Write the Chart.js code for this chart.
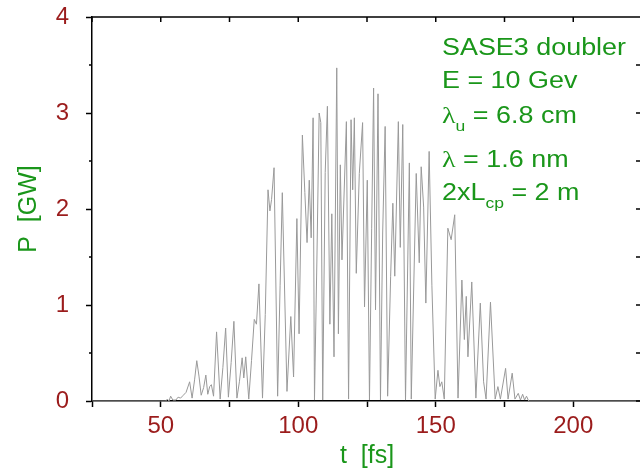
<!DOCTYPE html>
<html>
<head>
<meta charset="utf-8">
<script src="https://cdn.jsdelivr.net/npm/chart.js@4"></script>
<style>
  html, body { margin: 0; padding: 0; background: #fff; overflow: hidden; }
  #wrap { width: 650px; height: 473px; }
</style>
</head>
<body>
<div id="wrap"><canvas id="pulse" width="650" height="473"></canvas></div>
<script>
// time axis (fs) and power (GW)
const timeFs = [
  25, 50, 51.8, 52.4, 53, 53.6, 54.4, 55.5, 56.3, 57.2,
  58.2, 59.2, 60.5, 61.4, 62.3, 63.1, 63.9, 64.7, 65.6, 66.4,
  67.1, 67.8, 68.4, 69.2, 70.3, 71.6, 72.6, 73.6, 74.6, 75.6,
  76.6, 77.7, 78.6, 79.6, 80.2, 80.9, 82, 83, 84, 84.8,
  85.7, 87, 88, 89, 89.7, 90.3, 91.2, 92.5, 93.4, 94.2,
  95.9, 97.3, 98.3, 99.5, 100.3, 101.5, 102.4, 103.2, 104, 104.7,
  105.4, 105.9, 106.8, 107.6, 108.2, 108.9, 109.8, 110.6, 111.5, 112.2,
  113, 114, 114.6, 115.3, 115.9, 117.5, 118.3, 119.2, 119.8, 120.4,
  121.1, 122.2, 123.4, 124.1, 125.1, 125.9, 126.7, 127.4, 128.1, 129,
  129.9, 130.7, 131.6, 132.5, 133.6, 134.4, 135.1, 136.4, 137.1, 138,
  139, 140.4, 141.1, 142.9, 144, 144.7, 145.6, 146.4, 147.6, 148.6,
  149.8, 150.8, 151.5, 152.2, 153.1, 154.4, 155.6, 156.9, 158.1, 159.5,
  160.4, 161.1, 161.7, 163.1, 164.6, 166.2, 167.4, 168.3, 169.9, 171.6,
  172.6, 173.5, 175.4, 176.3, 177.8, 178.8, 180, 180.8, 181.6, 182.3,
  183, 183.8, 225
];
const powerGW = [
  0, 0, 0, 0.02, 0, 0.05, 0.01, 0.01, 0.04, 0.03,
  0.06, 0.09, 0.2, 0.03, 0.22, 0.42, 0.26, 0.06, 0.14, 0.27,
  0.07, 0.15, 0.17, 0.05, 0.72, 0.02, 0.35, 0.76, 0.04, 0.4,
  0.83, 0.03, 0.2, 0.45, 0.24, 0.46, 0.02, 0.42, 0.85, 0.8,
  1.22, 0.03, 0.9, 2.2, 1.98, 2.1, 2.43, 0.05, 1.2, 2.17,
  0.1, 0.88, 0.25, 1.9, 0.7, 2.77, 2.17, 1.65, 2.3, 1.7,
  2.95, 0.01, 1.5, 3.0, 2.9, 0.01, 2.38, 3.07, 0.8, 1.95,
  0.46, 3.47, 0.7, 2.46, 1.47, 2.91, 0.02, 2.93, 2.2, 2.95,
  1.33, 2.37, 2.9, 0.98, 2.3, 0.01, 1.8, 3.26, 0.95, 3.2,
  0.01, 1.75, 2.86, 0.05, 1.3, 2.06, 1.3, 2.91, 1.6, 2.88,
  0.01, 2.48, 0.02, 2.37, 1.44, 2.44, 2.02, 1.02, 2.6, 1.2,
  0.02, 0.32, 0.15, 0.2, 0.02, 1.8, 1.68, 1.94, 0.03, 1.26,
  0.64, 1.09, 0.46, 1.24, 0.03, 1.02, 0.2, 0.02, 1.03, 0.02,
  0.15, 0.02, 0.34, 0.02, 0.29, 0.02, 0.08, 0.01, 0.07, 0.01,
  0.05, 0, 0
];

// tick labels
const xLabels = [50, 100, 150, 200];
const yLabels = [0, 1, 2, 3, 4];
const yMinor = [0.5, 1.5, 2.5, 3.5];

// annotation block, [text, isSubscript, isSymbol]
const noteLines = [
  [["SASE3 doubler", 0, 0]],
  [["E = 10 Gev", 0, 0]],
  [["\u03bb", 0, 1], ["u", 1, 0], [" = 6.8 cm", 0, 0]],
  [["\u03bb", 0, 1], [" = 1.6 nm", 0, 0]],
  [["2xL", 0, 0], ["cp", 1, 0], [" = 2 m", 0, 0]]
];

const RED = "#9b1c1c";
const GREEN = "#1a961a";
const SANS = "'Liberation Sans', Arial, sans-serif";

// frame: top/right border, inward ticks, minor y ticks, notes
const framePlugin = {
  id: "frame",
  afterDraw(chart) {
    const { ctx, chartArea: a, scales } = chart;
    const x = scales.x, y = scales.y;
    ctx.save();
    ctx.strokeStyle = "#000";
    ctx.lineWidth = 1.5;
    ctx.beginPath();
    ctx.moveTo(a.left, a.top);
    ctx.lineTo(a.right, a.top);
    ctx.lineTo(a.right, a.bottom);
    x.ticks.forEach((t) => {
      const px = x.getPixelForValue(t.value);
      ctx.moveTo(px, a.top);
      ctx.lineTo(px, a.top + 5);
    });
    y.ticks.concat(yMinor.map((v) => ({ value: v }))).forEach((t) => {
      const py = y.getPixelForValue(t.value);
      ctx.moveTo(a.right - 6, py);
      ctx.lineTo(a.right, py);
    });
    yMinor.forEach((v) => {
      const py = y.getPixelForValue(v);
      ctx.moveTo(a.left - 3, py);
      ctx.lineTo(a.left, py);
    });
    ctx.stroke();

    // notes, slightly stretched like the original
    const baselines = [55, 88, 123, 167, 200];
    ctx.fillStyle = GREEN;
    ctx.textBaseline = "alphabetic";
    noteLines.forEach((parts, i) => {
      ctx.save();
      ctx.translate(442, baselines[i]);
      ctx.scale(1.17, 1);
      let cx = 0;
      parts.forEach(([txt, sub, sym]) => {
        if (sub) ctx.font = "15px " + SANS;
        else if (sym) ctx.font = "24px 'Liberation Serif', serif";
        else ctx.font = "23px " + SANS;
        ctx.fillText(txt, cx, sub ? 8 : 0);
        cx += ctx.measureText(txt).width;
      });
      ctx.restore();
    });
    ctx.restore();
  }
};

const points = timeFs.map((t, i) => ({ x: t, y: powerGW[i] }));

new Chart(document.getElementById("pulse"), {
  type: "line",
  data: {
    datasets: [{
      data: points,
      borderColor: "#999999",
      borderWidth: 1,
      pointRadius: 0,
      tension: 0,
      fill: false
    }]
  },
  options: {
    responsive: false,
    animation: false,
    layout: { padding: { top: 17, right: 8, left: 0, bottom: 0 } },
    plugins: { legend: { display: false }, tooltip: { enabled: false } },
    scales: {
      x: {
        type: "linear",
        min: 25,
        max: 225,
        ticks: {
          stepSize: 25,
          autoSkip: false,
          maxRotation: 0,
          padding: 5,
          color: RED,
          font: { family: SANS, size: 24 },
          callback: (v) => (xLabels.includes(v) ? String(v) : "")
        },
        grid: { drawOnChartArea: false, drawTicks: true, tickLength: 6, tickColor: "#000", tickWidth: 1.5 },
        border: { color: "#000", width: 1.5 },
        title: {
          display: true,
          text: "t  [fs]",
          color: GREEN,
          font: { family: SANS, size: 25 },
          padding: { top: 0, bottom: 2 }
        },
        afterFit: (s) => { s.height = 72; s.paddingLeft = 0; s.paddingRight = 0; }
      },
      y: {
        min: 0,
        max: 4,
        ticks: {
          stepSize: 1,
          padding: 17,
          color: RED,
          font: { family: SANS, size: 24 },
          callback: (v) => (yLabels.includes(v) ? String(v) : "")
        },
        grid: { drawOnChartArea: false, drawTicks: true, tickLength: 6, tickColor: "#000", tickWidth: 1.5 },
        border: { color: "#000", width: 1.5 },
        title: {
          display: true,
          text: "P  [GW]",
          color: GREEN,
          font: { family: SANS, size: 25 },
          padding: { top: 14, bottom: 0 }
        },
        afterFit: (s) => { s.width = 92; s.paddingTop = 0; s.paddingBottom = 0; }
      }
    }
  },
  plugins: [framePlugin]
});
</script>
</body>
</html>
